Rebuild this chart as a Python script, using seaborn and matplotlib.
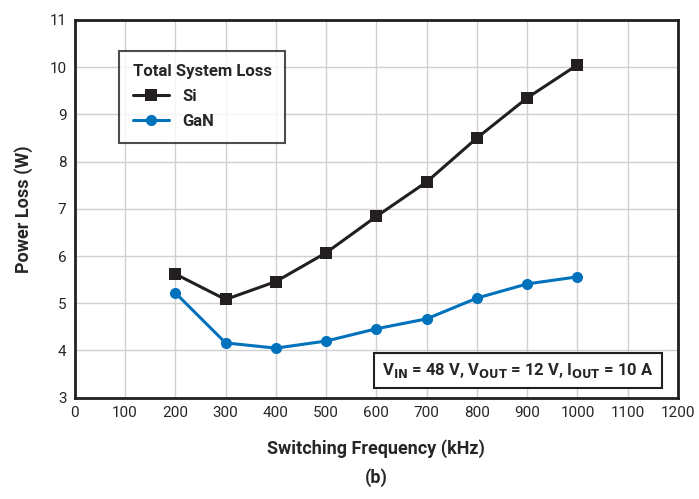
import matplotlib
matplotlib.use("Agg")
import matplotlib.pyplot as plt
import seaborn as sns
import pandas as pd

freq = [200, 300, 400, 500, 600, 700, 800, 900, 1000]
si_loss = [5.62, 5.08, 5.46, 6.07, 6.84, 7.57, 8.50, 9.35, 10.05]
gan_loss = [5.22, 4.16, 4.05, 4.20, 4.46, 4.67, 5.11, 5.41, 5.56]
x_ticks = list(range(0, 1300, 100))
y_ticks = list(range(3, 12))

df = pd.DataFrame({
    "freq": freq * 2,
    "loss": si_loss + gan_loss,
    "series": ["Si"] * len(freq) + ["GaN"] * len(freq),
})

sns.set_style("white")
plt.rcParams['font.family'] = ['Roboto', 'DejaVu Sans']

fig, ax = plt.subplots(figsize=(6.99, 4.99), dpi=100)
fig.subplots_adjust(left=0.107, right=0.97, top=0.96, bottom=0.203)

sns.lineplot(data=df, x="freq", y="loss", hue="series", style="series",
             palette={"Si": "#231f20", "GaN": "#0072bc"},
             markers={"Si": "s", "GaN": "o"}, dashes=False,
             markersize=8, linewidth=2.2, markeredgewidth=0, ax=ax)

ax.set_xlim(0, 1200)
ax.set_ylim(3, 11)
ax.set_xticks(x_ticks)
ax.set_yticks(y_ticks)
ax.tick_params(labelsize=11, length=0, pad=6)
ax.grid(True, color="#d0d0d0", linewidth=1)
ax.set_axisbelow(True)
for s in ax.spines.values():
    s.set_color("#231f20")
    s.set_linewidth(2)

ax.set_xlabel("Switching Frequency (kHz)", fontsize=13, fontweight="bold", labelpad=14)
fig.text(0.5 * (0.107 + 0.97), 0.025, "(b)", ha="center", va="bottom",
         fontsize=13, fontweight="bold")
ax.set_ylabel("Power Loss (W)", fontsize=13, fontweight="bold", labelpad=12)

leg = ax.legend(title="Total System Loss", loc="upper left", bbox_to_anchor=(0.06, 0.94),
                fontsize=12, title_fontsize=12, frameon=True, fancybox=False,
                edgecolor="#231f20", borderpad=0.8, labelspacing=0.6, handlelength=2.2)
leg.get_frame().set_linewidth(1.5)
leg.get_title().set_fontweight("bold")
leg._legend_box.align = "left"
for t in leg.get_texts():
    t.set_fontweight("bold")

ax.text(0.96, 0.072, r"V$_{\mathbf{IN}}$ = 48 V, V$_{\mathbf{OUT}}$ = 12 V, I$_{\mathbf{OUT}}$ = 10 A",
        transform=ax.transAxes, ha="right", va="center", fontsize=12, fontweight="bold",
        bbox=dict(boxstyle="square,pad=0.5", facecolor="white", edgecolor="#231f20", linewidth=1.5))

fig.savefig("out.png", dpi=100)
